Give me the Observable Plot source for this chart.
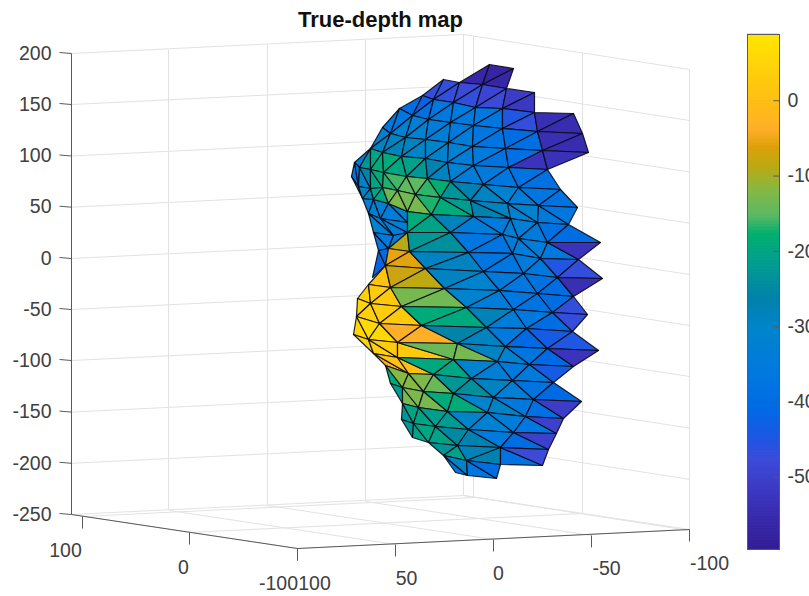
<!DOCTYPE html>
<html>
<head>
<meta charset="utf-8">
<script src="https://cdn.jsdelivr.net/npm/d3@7"></script>
<script src="https://cdn.jsdelivr.net/npm/@observablehq/plot@0.6"></script>
<style>
html,body{margin:0;padding:0;background:#fff;}
#chart{position:relative;width:809px;height:596px;overflow:hidden;}
#chart svg{position:absolute;left:0;top:0;}
</style>
</head>
<body>
<div id="chart"></div>
<script>
// ---- Projected vertical-axis ticks (value, projected position)
const zTicks = [200,150,100,50,0,-50,-100,-150,-200,-250];
const zTickPos = [53,104,155.5,206.7,258,309,360,411.6,462.8,514];
// ---- Floor axes: tick labels, projected tick position
const yTicks = ["100","0","-100"];
const yTickX = [82,189,297];
const yTickY = [516,532,548];
const xTicks = ["100","50","0","-50","-100"];
const xTickX = [297,395,493,591,689];
const xTickY = [548,544,539,535,529];
// ---- Colour bar
const barTicks = [0,-100,-200,-300,-400,-500];
const colorStops = [88,0,-39,-62,-89,-121,-153,-178,-212,-263,-304,-365,-410,-445,-478,-510,-556,-596];
const colorRange = ["#ffe600","#ffbe14","#ffaf28","#dca00a","#b9aa14","#82b946","#5ab964","#00af6e","#00a08c","#0082aa","#0084cc","#0078e0","#006ae4","#1a58e4","#3c4bd9","#3c3cc8","#3728aa","#321e96"];

// ---- Mesh vertices in projected view-plane units, one list per mesh row
const meshRows = [
 [[489,64],[513,68]],
 [[443,79],[459,82],[482,84],[506,88],[534,92]],
 [[422,95],[433,99],[453,102],[475,107],[502,108],[534,112],[573,113]],
 [[399,108],[412,115],[428,119],[450,122],[473,125],[502,128],[537,131],[582,133]],
 [[382,127],[390,133],[405,137],[425,139],[448,142],[472,146],[505,148],[542,150],[588,152]],
 [[370,148],[382,152],[401,156],[425,158],[447,162],[473,165],[508,167],[547,169]],
 [[354,162],[359,167],[370,169],[383,172],[406,176],[427,178],[450,181],[483,184],[518,187],[560,189]],
 [[351,176],[358,186],[370,188],[382,187],[397,190],[415,194],[440,197],[470,200],[507,203],[538,205],[577,207]],
 [[362,198],[373,199],[388,203],[407,211],[431,214],[473,216],[510,218],[537,222],[568,224]],
 [[407,232],[450,232],[502,234],[518,238],[547,242],[600,242]],
 [[388,248],[409,251],[468,252],[512,253],[540,258],[578,259]],
 [[385,265],[425,268],[483,271],[523,273],[557,277],[602,278]],
 [[368,284],[390,287],[444,288],[499,290],[537,293],[573,296]],
 [[357,298],[370,303],[401,306],[466,307],[513,309],[552,312],[587,314]],
 [[356,316],[379,323],[421,325],[486,327],[526,328],[572,331]],
 [[353,334],[368,339],[397,342],[457,343],[505,346],[547,348],[598,350]],
 [[373,353],[397,357],[453,359],[497,361],[529,364],[573,366]],
 [[385,365],[408,373],[433,374],[471,378],[512,380],[553,382]],
 [[390,383],[402,387],[423,391],[453,393],[493,397],[533,399],[581,401]],
 [[402,403],[418,407],[447,411],[487,412],[525,416],[563,418]],
 [[401,419],[413,423],[435,426],[468,429],[513,432],[556,433]],
 [[412,437],[428,442],[457,445],[500,447],[548,449]],
 [[443,455],[466,460],[500,464],[542,465]],
 [[455,472],[467,475],[496,478]],
 // folded blue flank behind the nose
 [[368,213],[380,218],[407,222]],
 [[373,232],[393,235],[407,232]],
 [[378,250],[388,248]],
 [[372,277],[385,265]]
];
// ---- Strips between two rows: [upper row, lower row, upper start, lower start]
const stripRows = [
 [8,24,0,0],[24,25,0,0],[25,26,0,0],[26,27,0,0],
 [0,1,0,1],[1,2,0,0],[2,3,0,0],[3,4,0,0],[4,5,0,0],[5,6,0,0],[6,7,0,0],[7,8,0,0],
 [8,9,3,0],[9,10,0,0],[10,11,0,0],[11,12,0,0],[12,13,0,0],[13,14,0,0],[14,15,0,0],[15,16,0,0],
 [16,17,0,0],[17,18,0,0],[18,19,0,0],[19,20,0,0],[20,21,0,0],[21,22,1,0],[22,23,0,0]
];
// u = next triangle advances along the upper row, l = along the lower row
const stripMoves = [
 "ululu","lulu","luu","lu",
 "lul","lulululul","lulululululul","lululululululul","ulululululululu","llululululululul",
 "lululululululululul","uululululululululu",
 "ululululul","lululululu","ululululul","lululululu","lululululul","ulululululu","lululululul","ulululululu",
 "lululululu","lululululul","ulululululu","lululululu","ululululu","ulullu","lulu"
];
// ---- Face colour value for each triangle of each strip
const stripValues = [
 [-330,-320,-330,-340,-320],
 [-320,-330,-340,-330],
 [-370,-350,-340],
 [-420,-400],
 [-560,-570,-560],
 [-470,-470,-470,-480,-470,-490,-480,-510,-520],
 [-400,-430,-390,-370,-360,-355,-355,-365,-370,-450,-470,-540,-545],
 [-360,-370,-320,-330,-320,-340,-335,-350,-345,-370,-375,-400,-395,-540,-545],
 [-320,-290,-290,-280,-290,-295,-300,-310,-320,-340,-350,-380,-390,-530,-535],
 [-340,-230,-200,-190,-190,-200,-210,-225,-270,-290,-320,-340,-350,-370,-385,-390],
 [-380,-350,-300,-260,-200,-190,-170,-160,-150,-150,-165,-180,-230,-270,-290,-320,-340,-370,-385],
 [-370,-290,-280,-200,-200,-140,-125,-135,-130,-170,-190,-220,-270,-290,-320,-320,-350,-370],
 [-190,-205,-280,-340,-350,-330,-330,-350,-390,-400],
 [-90,-225,-240,-370,-375,-340,-345,-340,-360,-530],
 [-55,-58,-290,-290,-370,-370,-350,-360,-450,-470],
 [10,-75,-85,-290,-310,-350,-365,-380,-400,-540],
 [40,30,25,-130,-135,-310,-340,-365,-380,-400,-470],
 [50,40,30,25,-190,-195,-280,-340,-360,-400,-470],
 [55,60,60,-38,-38,-260,-290,-350,-410,-440,-450],
 [50,40,30,25,-140,-130,-290,-310,-370,-410,-530],
 [-38,10,0,-195,-200,-310,-330,-360,-350,-440],
 [-190,-120,-120,-125,-140,-230,-240,-290,-330,-380,-410],
 [-220,-130,-125,-130,-190,-190,-310,-290,-360,-390,-510],
 [-230,-200,-205,-215,-220,-300,-320,-345,-370,-500],
 [-230,-205,-200,-205,-250,-270,-350,-400,-500],
 [-230,-210,-280,-270,-385,-480],
 [-370,-300,-370,-400]
];

// Build one table of triangle outline points for the line mark
const facePoints = [];
let faceId = 0;
stripRows.forEach(([ru, rl, su, sl], s) => {
  let i = su, j = sl;
  const U = meshRows[ru], L = meshRows[rl];
  [...stripMoves[s]].forEach((m, k) => {
    let tri;
    if (m === "u") { if (!U[i + 1]) return; tri = [U[i], U[i + 1], L[j]]; i++; }
    else { if (!L[j + 1]) return; tri = [U[i], L[j], L[j + 1]]; j++; }
    const value = stripValues[s][k];
    [...tri, tri[0]].forEach(p => facePoints.push({face: faceId, px: p[0], py: p[1], value}));
    faceId++;
  });
});

// ---- Box and grid built from the tick tables
const GRID = "#e2e2e2", AXIS = "#5a5a5a", TXT = "#404040", FS = 19.5;
const segs = [];
zTickPos.forEach(y => {
  segs.push({x1:71,y1:y,x2:463,y2:y-19});
  segs.push({x1:463,y1:y-19,x2:689,y2:y+16});
});
[[168,49,509],[267,44,504],[365,39,500],[463,34,495],[473,36,496],[582,52.5,513],[689,69,529]]
  .forEach(([x,a,b]) => segs.push({x1:x,y1:a,x2:x,y2:b}));
yTickX.forEach((x,i) => segs.push({x1:x,y1:yTickY[i],x2:x+392,y2:yTickY[i]-19}));
xTickX.forEach((x,i) => segs.push({x1:x,y1:xTickY[i],x2:x-226,y2:xTickY[i]-34}));

const axisSegs = [
 {x1:71,y1:53,x2:71,y2:514},
 {x1:71,y1:514,x2:297,y2:548},
 {x1:297,y1:548,x2:689,y2:529}
];
const tickSegs = [
 ...zTickPos.map(y => ({x1:59,y1:y-1,x2:71,y2:y})),
 ...yTickX.map((x,i) => ({x1:x,y1:yTickY[i],x2:x,y2:yTickY[i]+12})),
 ...xTickX.map((x,i) => ({x1:x,y1:xTickY[i],x2:x,y2:xTickY[i]+12}))
];

const colorScale = {type:"linear", domain:colorStops, range:colorRange, interpolate:"rgb"};

const main = Plot.plot({
  width:809, height:596, margin:0,
  style:{background:"transparent", fontFamily:"'Liberation Sans',Arial,sans-serif"},
  x:{domain:[0,809], range:[0,809], axis:null},
  y:{domain:[0,596], range:[0,596], axis:null},
  color:colorScale,
  marks:[
    Plot.link(segs,{x1:"x1",y1:"y1",x2:"x2",y2:"y2",stroke:GRID,strokeWidth:1}),
    Plot.link(axisSegs,{x1:"x1",y1:"y1",x2:"x2",y2:"y2",stroke:AXIS,strokeWidth:1}),
    Plot.link(tickSegs,{x1:"x1",y1:"y1",x2:"x2",y2:"y2",stroke:AXIS,strokeWidth:1}),
    Plot.line(facePoints,{x:"px",y:"py",z:"face",fill:"value",stroke:"#0a0a14",strokeWidth:1.2,strokeOpacity:0.9,strokeLinejoin:"round"}),
    Plot.text(zTicks,{x:()=>51,y:(d,i)=>zTickPos[i],text:d=>String(d),textAnchor:"end",fontSize:FS,fill:TXT}),
    Plot.text(yTicks,{x:(d,i)=>[65,183,278][i],y:(d,i)=>[550,567,583][i],text:d=>d,fontSize:FS,fill:TXT}),
    Plot.text(xTicks,{x:(d,i)=>[314,406,498,606,709][i],y:(d,i)=>[583,578,573,568,563][i],text:d=>d,fontSize:FS,fill:TXT}),
    Plot.text(["True-depth map"],{x:()=>380,y:()=>19,text:d=>d,fontSize:22,fontWeight:"bold",fill:"#111"})
  ]
});
document.getElementById("chart").appendChild(main);

// ---- Colour bar: its own value axis along the same window
const barSteps = d3.range(-596,88,4);
const bar = Plot.plot({
  width:809, height:596,
  marginLeft:747, marginRight:30, marginTop:34, marginBottom:47,
  style:{background:"transparent", fontFamily:"'Liberation Sans',Arial,sans-serif"},
  x:{domain:[0,1], axis:null},
  y:{domain:[-596,88], axis:null},
  color:colorScale,
  marks:[
    Plot.rect(barSteps,{x1:()=>0,x2:()=>1,y1:d=>d,y2:d=>d+5,fill:d=>d+2}),
    Plot.frame({stroke:AXIS}),
    Plot.ruleY(barTicks,{x1:()=>0.82,x2:()=>1,stroke:AXIS}),
    Plot.text(barTicks,{x:()=>1,y:d=>d,dx:8,text:d=>String(d),textAnchor:"start",fontSize:FS,fill:TXT})
  ]
});
document.getElementById("chart").appendChild(bar);
</script>
</body>
</html>
